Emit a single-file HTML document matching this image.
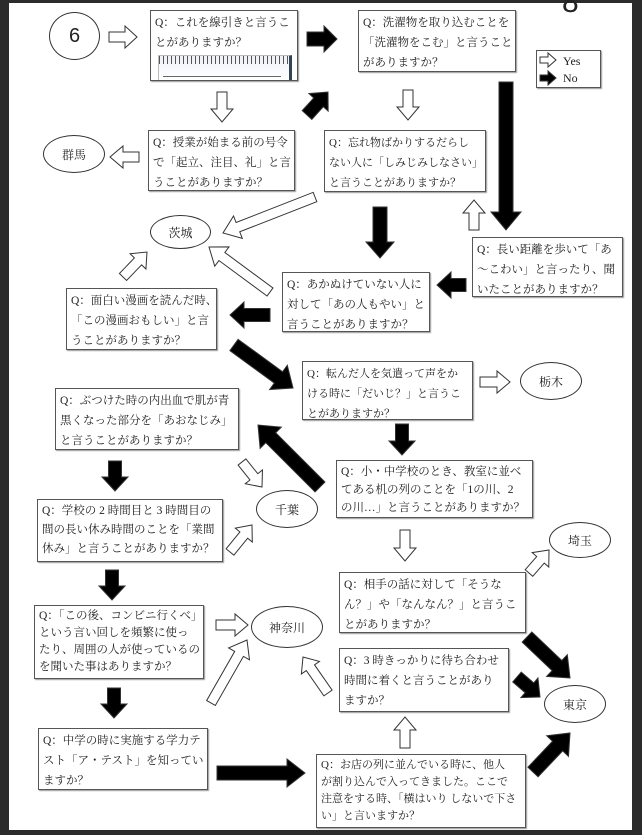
<!DOCTYPE html>
<html><head><meta charset="utf-8">
<style>
html,body{margin:0;padding:0}
body{width:642px;height:835px;position:relative;overflow:hidden;background:#fff;font-family:"Liberation Serif","Noto Serif CJK SC","Noto Sans CJK JP",serif;color:#222}
.frame{position:absolute;background:#2b2b2b}
.b{position:absolute;border:1px solid #555;background:#fff;font-size:11.5px;line-height:20px;padding:2px 4px;box-sizing:border-box;box-shadow:1px 1px 1px #999;white-space:nowrap;overflow:hidden}
.e{position:absolute;border:1px solid #333;border-radius:50%;background:#fff;display:flex;align-items:center;justify-content:center;font-size:12px;box-sizing:border-box}
svg{position:absolute;left:0;top:0}
</style></head><body>
<div class="frame" style="left:0;top:0;width:9px;height:835px"></div>
<div class="frame" style="left:632px;top:0;width:10px;height:835px"></div>
<div class="frame" style="left:0;top:0;width:642px;height:3px"></div>
<div class="frame" style="left:0;top:830px;width:642px;height:5px"></div>
<div style="position:absolute;left:562px;top:-14px;font-size:30px;font-family:'Liberation Sans',sans-serif">8</div>

<div class="e" style="left:49px;top:12px;width:51px;height:48px;font-size:20px;font-family:'Liberation Sans',sans-serif">6</div>
<div class="b" style="left:150px;top:10px;width:148px;height:71px">Q：これを線引きと言うこ<br>とがありますか？
<div style="position:absolute;left:7px;top:44px;width:130px;height:24px;border:1px solid #bbb;background:linear-gradient(#eef2f6,#fff);border-right:3px solid #345"><div style="height:8px;background:repeating-linear-gradient(90deg,#555 0 1px,transparent 1px 4px)"></div><div style="position:absolute;left:4px;bottom:3px;width:118px;border-top:1px solid #666"></div></div></div>
<div class="b" style="left:358px;top:10px;width:158px;height:62px">Q：洗濯物を取り込むことを<br>「洗濯物をこむ」と言うこと<br>がありますか？</div>
<div class="b" style="left:536px;top:50px;width:65px;height:38px;line-height:17px;padding-left:26px;font-size:12px">Yes<br>No</div>
<div class="b" style="left:148px;top:130px;width:147px;height:61px">Q：授業が始まる前の号令<br>で「起立、注目、礼」と言<br>うことがありますか？</div>
<div class="e" style="left:43px;top:135px;width:62px;height:38px">群馬</div>
<div class="b" style="left:324px;top:130px;width:162px;height:62px;font-size:11px">Q：忘れ物ばかりするだらし<br>ない人に「しみじみしなさい」<br>と言うことがありますか？</div>
<div class="e" style="left:150px;top:215px;width:61px;height:34px">茨城</div>
<div class="b" style="left:472px;top:237px;width:151px;height:60px">Q：長い距離を歩いて「あ<br>〜こわい」と言ったり、聞<br>いたことがありますか？</div>
<div class="b" style="left:282px;top:272px;width:148px;height:60px">Q：あかぬけていない人に<br>対して「あの人もやい」と<br>言うことがありますか？</div>
<div class="b" style="left:66px;top:288px;width:151px;height:62px">Q：面白い漫画を読んだ時、<br>「この漫画おもしい」と言<br>うことがありますか？</div>
<div class="b" style="left:302px;top:361px;width:171px;height:59px;font-size:11px">Q：転んだ人を気遣って声をか<br>ける時に「だいじ？」と言うこ<br>とがありますか？</div>
<div class="e" style="left:520px;top:362px;width:62px;height:38px">栃木</div>
<div class="b" style="left:55px;top:388px;width:184px;height:62px">Q：ぶつけた時の内出血で肌が青<br>黒くなった部分を「あおなじみ」<br>と言うことがありますか？</div>
<div class="b" style="left:336px;top:460px;width:197px;height:58px;line-height:18px">Q：小・中学校のとき、教室に並べ<br>てある机の列のことを「1の川、2<br>の川…」と言うことがありますか？</div>
<div class="e" style="left:256px;top:490px;width:62px;height:38px">千葉</div>
<div class="b" style="left:37px;top:499px;width:186px;height:63px;line-height:19px">Q：学校の 2 時間目と 3 時間目の<br>間の長い休み時間のことを「業間<br>休み」と言うことがありますか？</div>
<div class="e" style="left:549px;top:522px;width:62px;height:36px">埼玉</div>
<div class="b" style="left:339px;top:572px;width:187px;height:61px">Q：相手の話に対して「そうな<br>ん？」や「なんなん？」と言うこ<br>とがありますか？</div>
<div class="b" style="left:34px;top:605px;width:170px;height:74px;line-height:17px">Q：「この後、コンビニ行くべ」<br>という言い回しを頻繁に使っ<br>たり、周囲の人が使っているの<br>を聞いた事はありますか？</div>
<div class="e" style="left:251px;top:606px;width:72px;height:42px">神奈川</div>
<div class="b" style="left:339px;top:648px;width:170px;height:64px">Q：3 時きっかりに待ち合わせ<br>時間に着くと言うことがあり<br>ますか？</div>
<div class="e" style="left:544px;top:685px;width:62px;height:38px">東京</div>
<div class="b" style="left:38px;top:728px;width:170px;height:62px">Q：中学の時に実施する学力テ<br>スト「ア・テスト」を知ってい<br>ますか？</div>
<div class="b" style="left:316px;top:754px;width:210px;height:74px;line-height:17px;font-size:11px">Q：お店の列に並んでいる時に、他人<br>が割り込んで入ってきました。ここで<br>注意をする時、「横はいり しないで下さ<br>い」と言いますか？</div>

<svg width="642" height="835" id="s"></svg>
<script>
var s=document.getElementById('s');
function A(x1,y1,x2,y2,black,w,hw,hl){
 var dx=x2-x1,dy=y2-y1,L=Math.sqrt(dx*dx+dy*dy),ang=Math.atan2(dy,dx)*180/Math.PI;
 w=w||(black?13:10);hw=hw||(black?26:22);hl=hl||(black?14:13);
 var p=[[0,-w/2],[L-hl,-w/2],[L-hl,-hw/2],[L,0],[L-hl,hw/2],[L-hl,w/2],[0,w/2]].map(function(a){return a.join(',')}).join(' ');
 var el=document.createElementNS('http://www.w3.org/2000/svg','polygon');
 el.setAttribute('points',p);
 el.setAttribute('transform','translate('+x1+','+y1+') rotate('+ang+')');
 el.setAttribute('fill',black?'#000':'#fff');
 el.setAttribute('stroke','#333');el.setAttribute('stroke-width','1');
 s.appendChild(el);
}
A(109,37,137,37,0,10,22,12);
A(307,39,337,39,1,14,26,13);
A(222,92,222,122,0);
A(307,115,328,92,1);
A(408,90,408,120,0);
A(506,82,506,230,1,14,30,18);
A(139,157,110,157,0);
A(315,197,223,233,0,10,24,16);
A(380,207,380,258,1,14,28,16);
A(474,230,474,200,0);
A(466,285,437,285,1);
A(270,315,230,315,1);
A(123,277,147,252,0);
A(270,292,209,247,0,10,24,16);
A(234,345,293,388,1,14,30,18);
A(480,382,510,382,0);
A(402,424,402,455,1);
A(320,487,258,425,1,14,30,18);
A(115,461,115,491,1);
A(242,462,262,487,0);
A(230,552,252,525,0);
A(405,530,405,561,0);
A(529,573,549,550,0);
A(112,570,112,600,1);
A(216,625,248,625,0);
A(114,688,114,718,1);
A(211,703,247,640,0,10,24,16);
A(328,693,303,657,0);
A(527,637,570,678,1,14,30,18);
A(517,677,540,697,1);
A(217,773,305,773,1,14,28,18);
A(405,748,405,717,0);
A(533,772,570,733,1,14,30,18);
A(540,60,556,60,0,6,14,8);
A(540,78,556,78,1,6,14,8);
</script>
</body></html>
